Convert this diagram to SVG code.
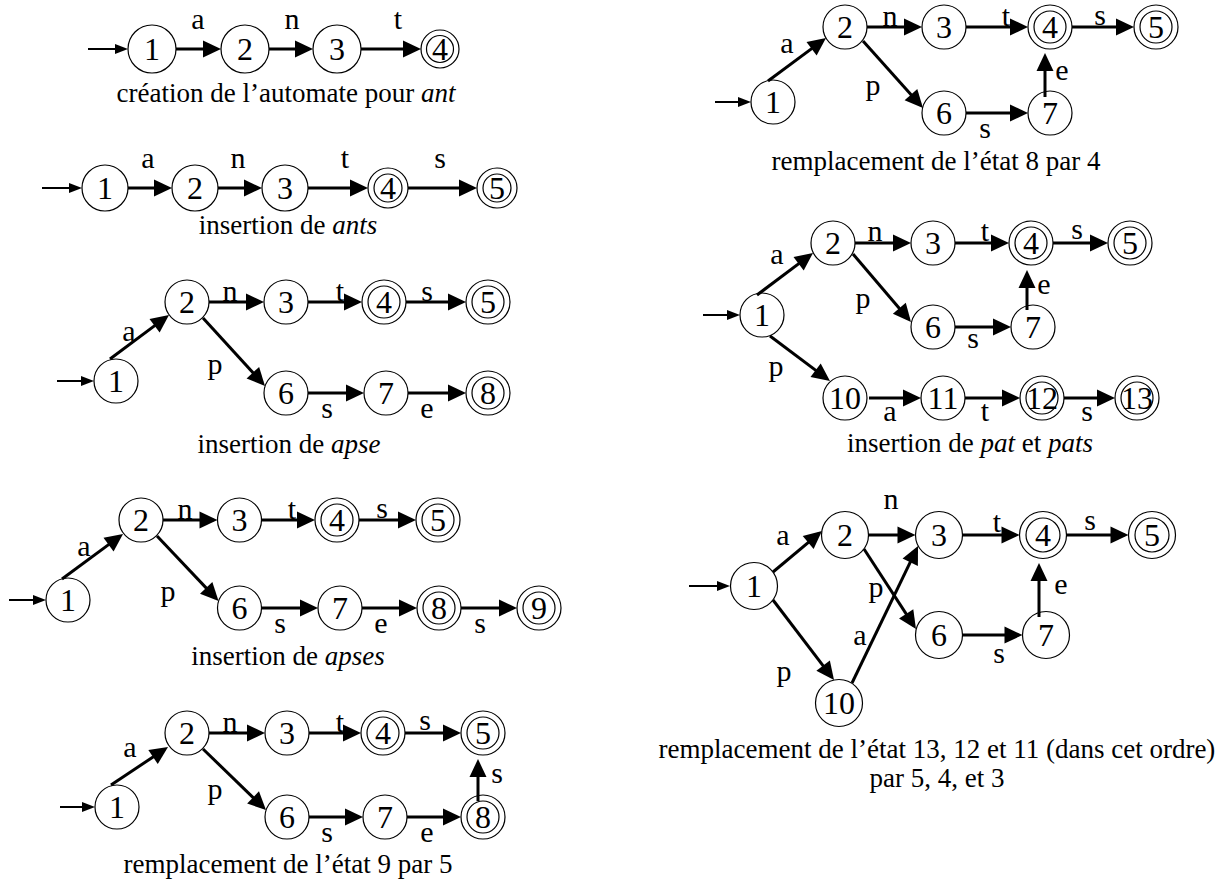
<svg xmlns="http://www.w3.org/2000/svg" width="1223" height="883" viewBox="0 0 1223 883">
<style>
.n circle{fill:none;stroke:#000;stroke-width:1.2}
.n text{font-family:"Liberation Serif","Times New Roman",serif;font-size:32px;text-anchor:middle;fill:#000}
.e path{fill:none;stroke:#000;stroke-width:3;marker-end:url(#ah)}
.e path.i{stroke-width:2;marker-end:url(#ih)}
.lb text{font-family:"Liberation Serif","Times New Roman",serif;font-size:30px;text-anchor:middle;fill:#000}
.cap{font-family:"Liberation Serif","Times New Roman",serif;font-size:27px;text-anchor:middle;fill:#000}
.it{font-style:italic}
</style>
<defs>
<marker id="ah" markerUnits="userSpaceOnUse" markerWidth="18" markerHeight="17" refX="14" refY="8.5" orient="auto" overflow="visible"><path d="M0,0 L18,8.5 L0,17 Z" fill="#000"/></marker>
<marker id="ih" markerUnits="userSpaceOnUse" markerWidth="13" markerHeight="10" refX="10" refY="5" orient="auto" overflow="visible"><path d="M0,0 L13,5 L0,10 Z" fill="#000"/></marker>
</defs>
<rect width="1223" height="883" fill="#fff"/>

<!-- Diagram 1 -->
<g id="d1">
<g id="d1-n1" class="n"><circle cx="152" cy="49" r="24"/><text x="152" y="60">1</text></g>
<g id="d1-n2" class="n"><circle cx="245" cy="49" r="24"/><text x="245" y="60">2</text></g>
<g id="d1-n3" class="n"><circle cx="337" cy="49" r="24"/><text x="337" y="60">3</text></g>
<g id="d1-n4" class="n"><circle cx="440" cy="49" r="19"/><circle cx="440" cy="49" r="13.5"/><text x="440" y="60">4</text></g>
<g id="d1-edges" class="e">
<path class="i" d="M88,49H125"/>
<path d="M176,49H217"/><path d="M269,49H309"/><path d="M361,49H417"/>
</g>
<g id="d1-labels" class="lb"><text x="198" y="29">a</text><text x="292" y="29">n</text><text x="398" y="29">t</text></g>
<text class="cap" x="286" y="102">création de l’automate pour <tspan class="it">ant</tspan></text>
</g>

<!-- Diagram 2 -->
<g id="d2">
<g id="d2-n1" class="n"><circle cx="105" cy="188" r="23"/><text x="105" y="199">1</text></g>
<g id="d2-n2" class="n"><circle cx="195" cy="188" r="23"/><text x="195" y="199">2</text></g>
<g id="d2-n3" class="n"><circle cx="285" cy="188" r="23"/><text x="285" y="199">3</text></g>
<g id="d2-n4" class="n"><circle cx="388" cy="188" r="20"/><circle cx="388" cy="188" r="14"/><text x="388" y="199">4</text></g>
<g id="d2-n5" class="n"><circle cx="497" cy="188" r="20"/><circle cx="497" cy="188" r="14"/><text x="497" y="199">5</text></g>
<g id="d2-edges" class="e">
<path class="i" d="M42,188H79"/>
<path d="M128,188H168"/><path d="M218,188H258"/><path d="M308,188H364"/><path d="M408,188H473"/>
</g>
<g id="d2-labels" class="lb"><text x="148" y="168">a</text><text x="238" y="168">n</text><text x="345" y="168">t</text><text x="440" y="168">s</text></g>
<text class="cap" x="288" y="234">insertion de <tspan class="it">ants</tspan></text>
</g>

<!-- Diagram 3 -->
<g id="d3">
<g id="d3-n1" class="n"><circle cx="116" cy="381" r="22"/><text x="116" y="392">1</text></g>
<g id="d3-n2" class="n"><circle cx="187" cy="302" r="22"/><text x="187" y="313">2</text></g>
<g id="d3-n3" class="n"><circle cx="286" cy="302" r="22"/><text x="286" y="313">3</text></g>
<g id="d3-n4" class="n"><circle cx="384" cy="302" r="22"/><circle cx="384" cy="302" r="16"/><text x="384" y="313">4</text></g>
<g id="d3-n5" class="n"><circle cx="488" cy="302" r="22"/><circle cx="488" cy="302" r="16"/><text x="488" y="313">5</text></g>
<g id="d3-n6" class="n"><circle cx="286" cy="393" r="22"/><text x="286" y="404">6</text></g>
<g id="d3-n7" class="n"><circle cx="386" cy="393" r="22"/><text x="386" y="404">7</text></g>
<g id="d3-n8" class="n"><circle cx="488" cy="393" r="22"/><circle cx="488" cy="393" r="16"/><text x="488" y="404">8</text></g>
<g id="d3-edges" class="e">
<path class="i" d="M57,381H91"/>
<path d="M110,359L165.8,317.4"/>
<path d="M203,318L262.3,383"/>
<path d="M209,302H260"/><path d="M308,302H358"/><path d="M406,302H462"/>
<path d="M308,393H360"/><path d="M408,393H462"/>
</g>
<g id="d3-labels" class="lb"><text x="129" y="341">a</text><text x="215" y="374">p</text><text x="230" y="301">n</text><text x="340" y="301">t</text><text x="427" y="301">s</text><text x="327" y="418">s</text><text x="427" y="418">e</text></g>
<text class="cap" x="289" y="453">insertion de <tspan class="it">apse</tspan></text>
</g>

<!-- Diagram 4 -->
<g id="d4">
<g id="d4-n1" class="n"><circle cx="68" cy="600" r="22"/><text x="68" y="611">1</text></g>
<g id="d4-n2" class="n"><circle cx="141" cy="520" r="22"/><text x="141" y="531">2</text></g>
<g id="d4-n3" class="n"><circle cx="239.5" cy="520" r="22"/><text x="239.5" y="531">3</text></g>
<g id="d4-n4" class="n"><circle cx="337" cy="520" r="22"/><circle cx="337" cy="520" r="16"/><text x="337" y="531">4</text></g>
<g id="d4-n5" class="n"><circle cx="438" cy="520" r="22"/><circle cx="438" cy="520" r="16"/><text x="438" y="531">5</text></g>
<g id="d4-n6" class="n"><circle cx="239.5" cy="608" r="22"/><text x="239.5" y="619">6</text></g>
<g id="d4-n7" class="n"><circle cx="340" cy="608" r="22"/><text x="340" y="619">7</text></g>
<g id="d4-n8" class="n"><circle cx="439" cy="608" r="22"/><circle cx="439" cy="608" r="16"/><text x="439" y="619">8</text></g>
<g id="d4-n9" class="n"><circle cx="539" cy="608" r="22"/><circle cx="539" cy="608" r="16"/><text x="539" y="619">9</text></g>
<g id="d4-edges" class="e">
<path class="i" d="M9,600H43"/>
<path d="M62,579L119.8,536.4"/>
<path d="M157,536L215.8,598.1"/>
<path d="M163,520H213.5"/><path d="M261.5,520H311"/><path d="M359,520H412"/>
<path d="M261.5,608H314"/><path d="M362,608H413"/><path d="M461,608H513"/>
</g>
<g id="d4-labels" class="lb"><text x="84" y="556">a</text><text x="168" y="601">p</text><text x="185" y="519">n</text><text x="292" y="519">t</text><text x="382" y="518">s</text><text x="280" y="633">s</text><text x="381" y="633">e</text><text x="480" y="633">s</text></g>
<text class="cap" x="288" y="665">insertion de <tspan class="it">apses</tspan></text>
</g>

<!-- Diagram 5 -->
<g id="d5">
<g id="d5-n1" class="n"><circle cx="117" cy="807" r="22"/><text x="117" y="818">1</text></g>
<g id="d5-n2" class="n"><circle cx="187" cy="733" r="22"/><text x="187" y="744">2</text></g>
<g id="d5-n3" class="n"><circle cx="287" cy="733" r="22"/><text x="287" y="744">3</text></g>
<g id="d5-n4" class="n"><circle cx="383" cy="733" r="22"/><circle cx="383" cy="733" r="16"/><text x="383" y="744">4</text></g>
<g id="d5-n5" class="n"><circle cx="483" cy="733" r="22"/><circle cx="483" cy="733" r="16"/><text x="483" y="744">5</text></g>
<g id="d5-n6" class="n"><circle cx="287" cy="817" r="22"/><text x="287" y="828">6</text></g>
<g id="d5-n7" class="n"><circle cx="385" cy="817" r="22"/><text x="385" y="828">7</text></g>
<g id="d5-n8" class="n"><circle cx="483" cy="817" r="22"/><circle cx="483" cy="817" r="16"/><text x="483" y="828">8</text></g>
<g id="d5-edges" class="e">
<path class="i" d="M60,807H92"/>
<path d="M111,785L164.7,749.2"/>
<path d="M203,749L263.1,807.2"/>
<path d="M209,733H261"/><path d="M309,733H357"/><path d="M405,733H457"/>
<path d="M309,817H359"/><path d="M407,817H457"/>
<path d="M478,801V763"/>
</g>
<g id="d5-labels" class="lb"><text x="130" y="757">a</text><text x="215" y="799">p</text><text x="230" y="732">n</text><text x="340" y="732">t</text><text x="425" y="730">s</text><text x="327" y="842">s</text><text x="427" y="842">e</text><text x="497" y="783">s</text></g>
<text class="cap" x="288" y="873">remplacement de l’état 9 par 5</text>
</g>

<!-- Diagram 6 -->
<g id="d6">
<g id="d6-n1" class="n"><circle cx="773" cy="102" r="22"/><text x="773" y="113">1</text></g>
<g id="d6-n2" class="n"><circle cx="845" cy="27" r="22"/><text x="845" y="38">2</text></g>
<g id="d6-n3" class="n"><circle cx="944" cy="27" r="22"/><text x="944" y="38">3</text></g>
<g id="d6-n4" class="n"><circle cx="1050" cy="27" r="22"/><circle cx="1050" cy="27" r="16"/><text x="1050" y="38">4</text></g>
<g id="d6-n5" class="n"><circle cx="1156" cy="27" r="22"/><circle cx="1156" cy="27" r="16"/><text x="1156" y="38">5</text></g>
<g id="d6-n6" class="n"><circle cx="944" cy="113" r="22"/><text x="944" y="124">6</text></g>
<g id="d6-n7" class="n"><circle cx="1050" cy="113" r="22"/><text x="1050" y="124">7</text></g>
<g id="d6-edges" class="e">
<path class="i" d="M715,102H748"/>
<path d="M768,81L822.8,40.4"/>
<path d="M863,41L920.3,105"/>
<path d="M867,27H918"/><path d="M966,27H1024"/><path d="M1072,27H1130"/>
<path d="M966,113H1024"/>
<path d="M1045,97V57"/>
</g>
<g id="d6-labels" class="lb"><text x="787" y="53">a</text><text x="873" y="95">p</text><text x="890" y="26">n</text><text x="1006" y="26">t</text><text x="1100" y="25">s</text><text x="1062" y="80">e</text><text x="985" y="138">s</text></g>
<text class="cap" x="936" y="170">remplacement de l’état 8 par 4</text>
</g>

<!-- Diagram 7 -->
<g id="d7">
<g id="d7-n1" class="n"><circle cx="762" cy="315" r="22"/><text x="762" y="326">1</text></g>
<g id="d7-n2" class="n"><circle cx="833" cy="243" r="22"/><text x="833" y="254">2</text></g>
<g id="d7-n3" class="n"><circle cx="933" cy="243" r="22"/><text x="933" y="254">3</text></g>
<g id="d7-n4" class="n"><circle cx="1031" cy="243" r="22"/><circle cx="1031" cy="243" r="16"/><text x="1031" y="254">4</text></g>
<g id="d7-n5" class="n"><circle cx="1130" cy="243" r="22"/><circle cx="1130" cy="243" r="16"/><text x="1130" y="254">5</text></g>
<g id="d7-n6" class="n"><circle cx="933" cy="327" r="22"/><text x="933" y="338">6</text></g>
<g id="d7-n7" class="n"><circle cx="1033" cy="327" r="22"/><text x="1033" y="338">7</text></g>
<g id="d7-n10" class="n"><circle cx="845" cy="398" r="22"/><text x="845" y="409">10</text></g>
<g id="d7-n11" class="n"><circle cx="943" cy="398" r="22"/><text x="943" y="409">11</text></g>
<g id="d7-n12" class="n"><circle cx="1042" cy="398" r="22"/><circle cx="1042" cy="398" r="16"/><text x="1042" y="409">12</text></g>
<g id="d7-n13" class="n"><circle cx="1137" cy="398" r="22"/><circle cx="1137" cy="398" r="16"/><text x="1137" y="409">13</text></g>
<g id="d7-edges" class="e">
<path class="i" d="M703,315H737"/>
<path d="M757,295L809.8,255.4"/>
<path d="M853,254L908.4,319"/>
<path d="M770,336L826.8,378.6"/>
<path d="M855,243H907"/><path d="M955,243H1005"/><path d="M1053,243H1104"/>
<path d="M955,327H1007"/>
<path d="M1027,310V274"/>
<path d="M869,398H917"/><path d="M965,398H1016"/><path d="M1064,398H1111"/>
</g>
<g id="d7-labels" class="lb"><text x="777" y="264">a</text><text x="863" y="308">p</text><text x="875" y="241">n</text><text x="985" y="241">t</text><text x="1077" y="239">s</text><text x="1044" y="294">e</text><text x="973" y="348">s</text><text x="776" y="376">p</text><text x="890" y="421">a</text><text x="985" y="421">t</text><text x="1087" y="421">s</text></g>
<text class="cap" x="970" y="452">insertion de <tspan class="it">pat</tspan> et <tspan class="it">pats</tspan></text>
</g>

<!-- Diagram 8 -->
<g id="d8">
<g id="d8-n1" class="n"><circle cx="754" cy="586" r="23.5"/><text x="754" y="597">1</text></g>
<g id="d8-n2" class="n"><circle cx="845" cy="535" r="23.5"/><text x="845" y="546">2</text></g>
<g id="d8-n3" class="n"><circle cx="939" cy="535" r="23.5"/><text x="939" y="546">3</text></g>
<g id="d8-n4" class="n"><circle cx="1043" cy="535" r="23.5"/><circle cx="1043" cy="535" r="17"/><text x="1043" y="546">4</text></g>
<g id="d8-n5" class="n"><circle cx="1152" cy="535" r="23.5"/><circle cx="1152" cy="535" r="17"/><text x="1152" y="546">5</text></g>
<g id="d8-n6" class="n"><circle cx="939" cy="635" r="23.5"/><text x="939" y="646">6</text></g>
<g id="d8-n7" class="n"><circle cx="1046" cy="635" r="23.5"/><text x="1046" y="646">7</text></g>
<g id="d8-n10" class="n"><circle cx="839" cy="703" r="23.5"/><text x="839" y="714">10</text></g>
<g id="d8-edges" class="e">
<path class="i" d="M689,586H727"/>
<path d="M773,572L818.9,533.6"/>
<path d="M773,600L831.6,676.8"/>
<path d="M852,683L916.3,549.6"/>
<path d="M864,549L913.8,625.6"/>
<path d="M868.5,535H911.5"/><path d="M962.5,535H1015.5"/><path d="M1066.5,535H1124.5"/>
<path d="M962.5,635H1018.5"/>
<path d="M1039,617V567"/>
</g>
<g id="d8-labels" class="lb"><text x="783" y="545">a</text><text x="891" y="509">n</text><text x="997" y="532">t</text><text x="1090" y="530">s</text><text x="876" y="597">p</text><text x="1061" y="594">e</text><text x="860" y="645">a</text><text x="999" y="663">s</text><text x="784" y="681">p</text></g>
<text class="cap" x="937" y="758">remplacement de l’état 13, 12 et 11 (dans cet ordre)</text>
<text class="cap" x="937" y="787">par 5, 4, et 3</text>
</g>
</svg>
